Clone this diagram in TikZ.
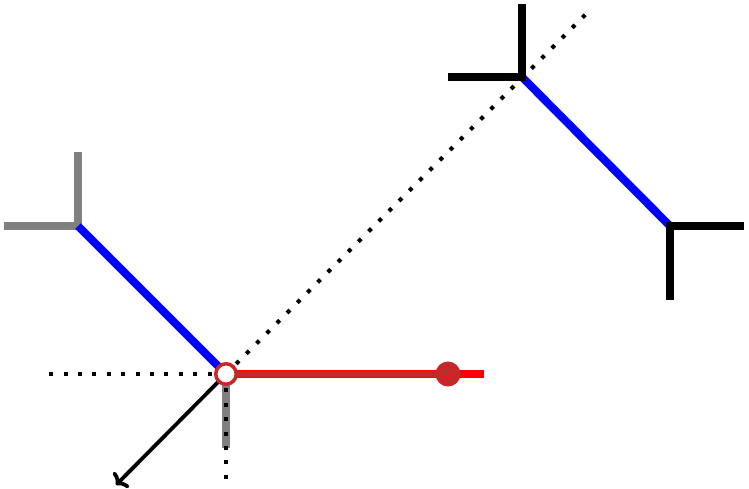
\documentclass[tikz,border=0pt]{standalone}
\usetikzlibrary{arrows.meta}
\definecolor{darkred}{RGB}{198,40,40}
\begin{document}
\begin{tikzpicture}[x=1pt,y=-1pt,
  thick8/.style={line width=8pt},
  dotline/.style={line width=4pt,dash pattern=on 4pt off 10.4pt,black},
]
\useasboundingbox (0,0) rectangle (749,488);
% coordinates
\coordinate (g) at (78,226);
\coordinate (gt) at (78,152);
\coordinate (gl) at (4,226);
\coordinate (o) at (226,374);
\coordinate (b1) at (522,77);
\coordinate (b1t) at (522,4);
\coordinate (b1l) at (448,77);
\coordinate (b2) at (670,226);
\coordinate (b2r) at (744,226);
\coordinate (b2b) at (670,300);
\coordinate (dtop) at (590,10);
\coordinate (dleft) at (47,374);
\coordinate (gdown) at (226,448);
\coordinate (ddown) at (226,482);
\coordinate (rend) at (484,374);
\coordinate (rdot) at (448,374);
\coordinate (arr) at (116,485);
% gray corner
\draw[thick8,gray] (gt) -- (g) -- (gl);
% blue lines
\draw[thick8,blue] (g) -- (o);
\draw[thick8,blue] (b1) -- (b2);
% black corners
\draw[thick8,black] (b1t) -- (b1) -- (b1l);
\draw[thick8,black] (b2r) -- (b2) -- (b2b);
% gray down
\draw[thick8,gray] (o) -- (gdown);
% dotted lines
\draw[dotline] (o) -- (dtop);
\draw[dotline] (o) -- (dleft);
\draw[dotline] (o) -- (ddown);
% arrow
\draw[line width=3.8pt,-{To[length=9pt,width=22pt]}] (o) -- (arr);
% red
\draw[line width=8pt,red] (o) -- (rend);
\draw[line width=6pt,darkred] (o) -- (rdot);
\fill[darkred] (rdot) circle (12.5pt);
\node[circle,draw=darkred,line width=3.5pt,fill=white,minimum size=20.5pt,inner sep=0pt] (oc) at (o) {};
\end{tikzpicture}
\end{document}
